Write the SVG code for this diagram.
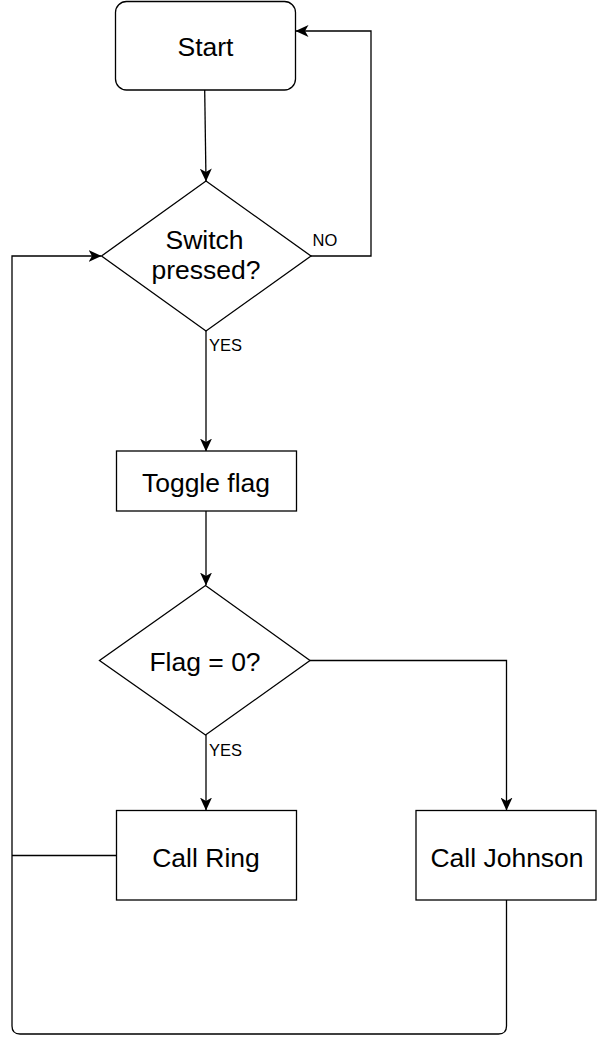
<svg xmlns="http://www.w3.org/2000/svg" width="597" height="1038" viewBox="0 0 597 1038">
<defs>
<marker id="arr" viewBox="0 0 13 12" refX="12.5" refY="6" markerWidth="13" markerHeight="12" markerUnits="userSpaceOnUse" orient="auto">
<path d="M0,0 L13,6 L0,12 L3.5,6 Z" fill="#000"/>
</marker>
<style>
.shape{fill:#fff;stroke:#000;stroke-width:1.3}
.edge{fill:none;stroke:#000;stroke-width:1.3}
.lbl{font-family:"Liberation Sans",Arial,Helvetica,sans-serif;font-size:26.5px;fill:#000;text-anchor:middle}
.small{font-family:"Liberation Sans",Arial,Helvetica,sans-serif;font-size:16.5px;fill:#000}
</style>
</defs>
<rect width="597" height="1038" fill="#fff"/>
<g id="connectors">
<path class="edge" d="M204.7,90 L206,181" marker-end="url(#arr)"/>
<path class="edge" d="M311,256 L371,256 L371,31 L296,31" marker-end="url(#arr)"/>
<path class="edge" d="M206,331 L206,451" marker-end="url(#arr)"/>
<path class="edge" d="M206,511 L206,585" marker-end="url(#arr)"/>
<path class="edge" d="M206,735 L206,810" marker-end="url(#arr)"/>
<path class="edge" d="M310,660.5 L506.5,660.5 L506.5,810" marker-end="url(#arr)"/>
<path class="edge" d="M506.5,900 L506.5,1026 Q506.5,1034 498.5,1034 L20,1034 Q12,1034 12,1026 L12,256 L101,256" marker-end="url(#arr)"/>
<path class="edge" d="M116,855.5 L12,855.5"/>
<text class="small" x="312.5" y="246">NO</text>
<text class="small" x="209" y="351">YES</text>
<text class="small" x="209" y="755.5">YES</text>
</g>
<g id="start">
<rect class="shape" x="115.5" y="1.5" width="180" height="88.5" rx="11" ry="11"/>
<text class="lbl" x="205.5" y="55.5">Start</text>
</g>
<g id="switch">
<path class="shape" d="M206,181 L311,256 L206,331 L101.5,256 Z"/>
<text class="lbl" x="204.5" y="248.5">Switch</text>
<text class="lbl" x="206" y="278.5">pressed?</text>
</g>
<g id="toggle">
<rect class="shape" x="116.5" y="451" width="180" height="60"/>
<text class="lbl" x="206" y="491.5">Toggle flag</text>
</g>
<g id="flag">
<path class="shape" d="M205.5,585.5 L310,660.5 L205.5,735 L99.5,660.5 Z"/>
<text class="lbl" x="205" y="670.5">Flag = 0?</text>
</g>
<g id="ring">
<rect class="shape" x="116.5" y="810.5" width="180" height="89.5"/>
<text class="lbl" x="206" y="866.5">Call Ring</text>
</g>
<g id="johnson">
<rect class="shape" x="416" y="810.5" width="180" height="89.5"/>
<text class="lbl" x="507" y="866.5">Call Johnson</text>
</g>
</svg>
